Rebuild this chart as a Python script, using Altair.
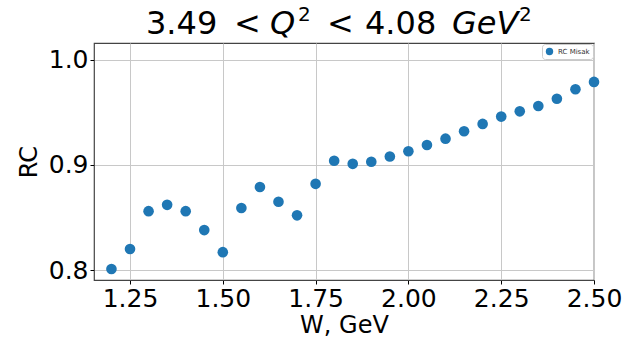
import altair as alt
import pandas as pd

W = [1.20, 1.25, 1.30, 1.35, 1.40, 1.45, 1.50, 1.55, 1.60, 1.65, 1.70, 1.75, 1.80, 1.85,
     1.90, 1.95, 2.00, 2.05, 2.10, 2.15, 2.20, 2.25, 2.30, 2.35, 2.40, 2.45, 2.50]
RC = [0.801, 0.820, 0.856, 0.862, 0.856, 0.838, 0.817, 0.859, 0.879, 0.865, 0.852, 0.882,
      0.904, 0.901, 0.903, 0.908, 0.913, 0.919, 0.925, 0.932, 0.939, 0.946, 0.951, 0.956,
      0.963, 0.972, 0.979]
SERIES = "RC Misak"
X_TICKS = [1.25, 1.50, 1.75, 2.00, 2.25, 2.50]
Y_TICKS = [0.8, 0.9, 1.0]

df = pd.DataFrame({"W": W, "RC": RC, "series": [SERIES] * len(W)})

FONT = "DejaVu Sans"

points = alt.Chart(df).mark_circle(size=113, opacity=1).encode(
    x=alt.X("W:Q", scale=alt.Scale(domain=[1.153, 2.5], nice=False, zero=False),
            axis=alt.Axis(values=X_TICKS, format=".2f", title="W, GeV", grid=True)),
    y=alt.Y("RC:Q", scale=alt.Scale(domain=[0.7905, 1.016], nice=False, zero=False),
            axis=alt.Axis(values=Y_TICKS, format=".1f", title="RC", grid=True)),
    color=alt.Color("series:N", scale=alt.Scale(domain=[SERIES], range=["#1f77b4"]),
                    legend=alt.Legend(title=None, orient="top-right", offset=1,
                                      labelFontSize=7, labelFont=FONT, symbolSize=55,
                                      symbolType="circle", strokeColor="#cccccc",
                                      fillColor="white", padding=3, cornerRadius=3,
                                      labelColor="#333333")),
)

# title pieces (mixed upright / italic, superscripts)
title_parts = [
    ("3.49", 52, -9, 32, "normal"),
    ("<", 140, -9, 32, "normal"),
    ("Q", 176, -9, 32, "italic"),
    ("2", 204, -22, 20, "normal"),
    ("<", 233, -9, 32, "normal"),
    ("4.08", 271, -9, 32, "normal"),
    ("GeV", 358, -9, 32, "italic"),
    ("2", 425, -22, 20, "normal"),
]

layers = [points]
for txt, px, py, fs, style in title_parts:
    layers.append(
        alt.Chart(pd.DataFrame({"t": [txt]})).mark_text(
            align="left", baseline="alphabetic", font=FONT, fontSize=fs,
            fontStyle=style, color="black"
        ).encode(text="t:N", x=alt.value(px), y=alt.value(py))
    )

chart = alt.layer(*layers).properties(
    width=500, height=237,
    autosize=alt.AutoSizeParams(type="none"),
    padding={"left": 94, "top": 43, "right": 31, "bottom": 57},
).configure_view(
    stroke="#444444", strokeWidth=1.2
).configure_axis(
    labelFont=FONT, titleFont=FONT, labelFontSize=25, titleFontSize=24,
    labelColor="black", titleColor="black", titleFontWeight="normal",
    gridColor="#c8c8c8", gridWidth=1, domain=False,
    tickColor="black", tickSize=4, labelFlush=False, labelOverlap=False,
).configure_axisX(
    labelPadding=2, titlePadding=2
).configure_axisY(
    labelPadding=2, titlePadding=7
)

chart.save("out.html", embed_options={"renderer": "svg", "actions": False})
